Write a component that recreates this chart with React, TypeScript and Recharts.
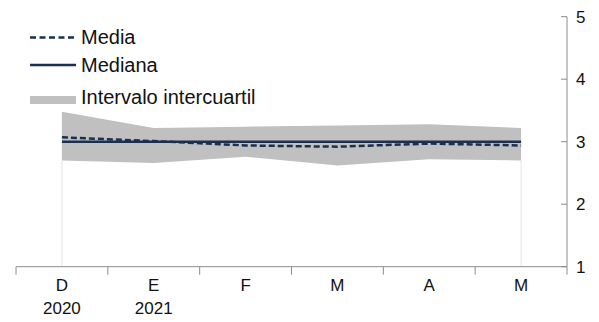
import { ComposedChart, Area, Line, XAxis, YAxis, ReferenceLine } from "recharts";

const periods = ["2020-12", "2021-01", "2021-02", "2021-03", "2021-04", "2021-05"];
const monthLabels = ["D", "E", "F", "M", "A", "M"];
const yearLabels = ["2020", "2021", "", "", "", ""];
const media = [3.07, 3.01, 2.94, 2.92, 2.97, 2.94];
const mediana = [3.0, 3.0, 3.0, 3.0, 3.0, 3.0];
const q1 = [2.7, 2.66, 2.76, 2.62, 2.72, 2.7];
const q3 = [3.48, 3.22, 3.24, 3.26, 3.28, 3.22];
const yTicks = [1, 2, 3, 4, 5];

const data = periods.map((p, i) => ({
  period: p,
  media: media[i],
  mediana: mediana[i],
  rango: [q1[i], q3[i]],
}));

const NAVY = "#1b2f4e";
const GRAY = "#c0c0c0";
const AXIS = "#8c8c8c";
const FONT = "'Liberation Sans', Arial, sans-serif";

const W = 599;
const H = 322;
const LEFT = 16;
const AXIS_X = 567;
const STEP = (AXIS_X - LEFT) / periods.length;

const XTick = (props: any) => {
  const { x, y, index } = props;
  const last = index === periods.length - 1;
  return (
    <g>
      <line x1={x - STEP / 2} x2={x - STEP / 2} y1={y} y2={y + 8} stroke={AXIS} />
      {last && <line x1={x + STEP / 2} x2={x + STEP / 2} y1={y} y2={y + 8} stroke={AXIS} />}
      <text x={x} y={y + 24} textAnchor="middle" fontSize={17} fontFamily={FONT} fill="#111">
        {monthLabels[index]}
      </text>
      <text x={x} y={y + 47} textAnchor="middle" fontSize={17} fontFamily={FONT} fill="#111">
        {yearLabels[index]}
      </text>
    </g>
  );
};

const YTick = (props: any) => {
  const { x, y, payload } = props;
  return (
    <g>
      <line x1={x - 6} x2={x} y1={y} y2={y} stroke={AXIS} />
      <text x={x + 9} y={y} dy="0.35em" textAnchor="start" fontSize={17} fontFamily={FONT} fill="#111">
        {payload.value}
      </text>
    </g>
  );
};

// leyenda superpuesta arriba a la izquierda
const LegendBox = () => (
  <svg
    width={300}
    height={110}
    style={{ position: "absolute", left: 0, top: 0, pointerEvents: "none" }}
  >
    <line x1={30} x2={77} y1={37.5} y2={37.5} stroke={NAVY} strokeWidth={2.5} strokeDasharray="6 3.5" />
    <text x={81} y={37} dy="0.35em" fontSize={20} fontFamily={FONT} fill="#111">Media</text>
    <line x1={30} x2={76} y1={65} y2={65} stroke={NAVY} strokeWidth={2.5} />
    <text x={81} y={64.5} dy="0.35em" fontSize={20} fontFamily={FONT} fill="#111">Mediana</text>
    <rect x={30} y={96} width={46} height={8} fill={GRAY} />
    <text x={81} y={97} dy="0.35em" fontSize={20} fontFamily={FONT} fill="#111">Intervalo intercuartil</text>
  </svg>
);

export default function App() {
  return (
    <div style={{ position: "absolute", left: 0, top: 0, width: W, height: H, background: "#fff" }}>
      <ComposedChart
        width={W}
        height={H}
        data={data}
        margin={{ top: 16.7, right: 0, bottom: 15.3, left: LEFT }}
      >
        <XAxis
          dataKey="period"
          padding={{ left: STEP / 2, right: STEP / 2 }}
          tickLine={false}
          tickSize={0}
          tickMargin={0}
          height={40}
          stroke={AXIS}
          tick={<XTick />}
          interval={0}
        />
        <YAxis
          orientation="right"
          domain={[1, 5]}
          ticks={yTicks}
          width={W - AXIS_X}
          tickLine={false}
          tickSize={0}
          tickMargin={0}
          stroke={AXIS}
          tick={<YTick />}
          allowDataOverflow
        />
        <Area
          dataKey="rango"
          type="linear"
          stroke="none"
          fill={GRAY}
          fillOpacity={1}
          isAnimationActive={false}
        />
        <ReferenceLine
          segment={[{ x: periods[0], y: 1 }, { x: periods[0], y: q1[0] }]}
          stroke="#e4e4e4"
          ifOverflow="visible"
        />
        <ReferenceLine
          segment={[{ x: periods[5], y: 1 }, { x: periods[5], y: q1[5] }]}
          stroke="#e4e4e4"
          ifOverflow="visible"
        />
        <Line
          dataKey="mediana"
          type="linear"
          stroke={NAVY}
          strokeWidth={2.5}
          dot={false}
          isAnimationActive={false}
        />
        <Line
          dataKey="media"
          type="linear"
          stroke={NAVY}
          strokeWidth={2.5}
          strokeDasharray="6 3"
          dot={false}
          isAnimationActive={false}
        />
      </ComposedChart>
      <LegendBox />
    </div>
  );
}
